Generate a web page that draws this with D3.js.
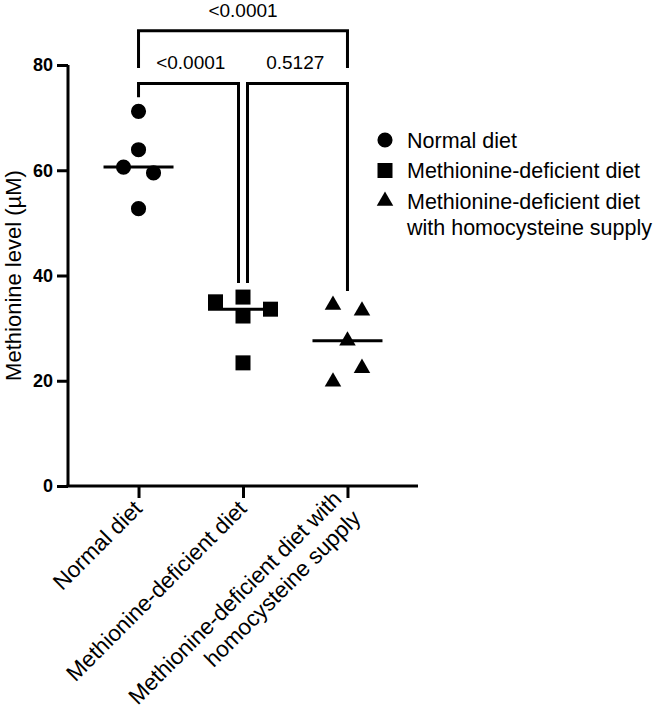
<!DOCTYPE html>
<html>
<head>
<meta charset="utf-8">
<script src="https://cdn.jsdelivr.net/npm/d3@7"></script>
<style>
  body { margin: 0; background: #fff; }
  text { font-family: Arial, "Liberation Sans", sans-serif; }
</style>
</head>
<body>
<div id="plot"></div>
<script>
// groups shown on the x axis
const groups = ['Normal diet', 'Methionine-deficient diet', 'Methionine-deficient diet with homocysteine supply']
const groupLabels = [['Normal diet'], ['Methionine-deficient diet'], ['Methionine-deficient diet with', 'homocysteine supply']]
const legendLabels = [['Normal diet'], ['Methionine-deficient diet'], ['Methionine-deficient diet', 'with homocysteine supply']]

// methionine level (uM) per animal
const normalDiet = [71.2, 63.9, 60.6, 59.5, 52.7]
const deficientDiet = [35.9, 35.0, 33.6, 32.3, 23.4]
const homocysteineDiet = [34.4, 33.3, 27.6, 19.8, 22.4]

const yTicks = [0, 20, 40, 60, 80]

// pairwise comparisons: [from group, to group, p value label, bracket level]
const comparisons = [
  [0, 1, '<0.0001', 76.5],
  [1, 2, '0.5127', 76.5],
  [0, 2, '<0.0001', 86.5]
]

const series = [normalDiet, deficientDiet, homocysteineDiet]
const shapes = [d3.symbolCircle, d3.symbolSquare, d3.symbolTriangle]
const shapeSizes = [180, 225, 118]
const spread = [15, 27.5, 14.5]   // horizontal step used when dots overlap

const width = 657, height = 718
const margin = {top: 65, left: 68}
const svg = d3.select('#plot').append('svg')
    .attr('width', width)
    .attr('height', height)

const x = d3.scalePoint()
    .domain(groups)
    .range([68, 418])
    .padding(0.675)

const y = d3.scaleLinear()
    .domain([0, 80])
    .range([486, 65])

// y axis
const yAxis = svg.append('g')
    .attr('transform', 'translate(' + margin.left + ',0)')
    .call(d3.axisLeft(y).tickValues(yTicks).tickSize(11).tickPadding(4))
yAxis.select('.domain').attr('d', 'M0,' + y(80) + 'V' + y(0))
yAxis.selectAll('line, path').attr('stroke', '#000').attr('stroke-width', 3)
yAxis.selectAll('text')
    .style('font-size', '18px')
    .style('font-weight', 'bold')
    .attr('fill', '#000')

// x axis
const xAxis = svg.append('g')
    .attr('transform', 'translate(0,' + y(0) + ')')
    .call(d3.axisBottom(x).tickSize(12).tickFormat(''))
xAxis.select('.domain').attr('d', 'M' + (margin.left - 1.5) + ',0H418')
xAxis.selectAll('line, path').attr('stroke', '#000').attr('stroke-width', 3)

// rotated category labels
groups.forEach((g, i) => {
  const lines = groupLabels[i]
  const t = svg.append('text')
      .attr('transform', 'translate(' + (x(g) + 5) + ',' + (y(0) + 24) + ') rotate(-45)')
      .attr('text-anchor', 'end')
      .style('font-size', '22.5px')
  lines.forEach((l, j) => {
    t.append('tspan')
        .attr('x', 0)
        .attr('dy', j === 0 ? (-(lines.length - 1) * 0.6) + 'em' : '1.2em')
        .text(l)
  })
})

// y axis title
svg.append('text')
    .attr('transform', 'translate(21,' + y(40) + ') rotate(-90)')
    .attr('text-anchor', 'middle')
    .style('font-size', '22px')
    .text('Methionine level (\u00b5M)')

// spread overlapping dots sideways
function swarm(values, step) {
  const px = values.map(v => y(v))
  const order = d3.range(values.length).sort((a, b) => px[a] - px[b])
  const offs = new Array(values.length).fill(0)
  let clusters = [], cur = [order[0]]
  for (let k = 1; k < order.length; k++) {
    if (px[order[k]] - px[order[k - 1]] < 15) cur.push(order[k])
    else { clusters.push(cur); cur = [order[k]] }
  }
  clusters.push(cur)
  clusters.forEach(c => {
    if (c.length === 2) {
      const s = c.slice().sort((a, b) => a - b)
      offs[s[0]] = -step; offs[s[1]] = step
    } else if (c.length > 2) {
      const placed = []
      c.forEach(i => {
        for (const o of [0, -step, step]) {
          if (!placed.some(p => p.o === o && Math.abs(px[p.i] - px[i]) < 15)) {
            offs[i] = o; placed.push({i: i, o: o}); break
          }
        }
      })
    }
  })
  return offs
}

series.forEach((vals, i) => {
  const cx = x(groups[i])
  const offs = swarm(vals, spread[i])
  // median line
  svg.append('line')
      .attr('x1', cx - 35).attr('x2', cx + 35)
      .attr('y1', y(d3.median(vals))).attr('y2', y(d3.median(vals)))
      .attr('stroke', '#000').attr('stroke-width', 3)
  svg.selectAll('.dot' + i)
      .data(vals)
      .enter()
      .append('path')
      .attr('d', d3.symbol().type(shapes[i]).size(shapeSizes[i]))
      .attr('transform', (d, k) => 'translate(' + (cx + offs[k]) + ',' + y(d) + ')')
      .attr('fill', '#000')
})

// significance brackets
comparisons.forEach(c => {
  const x1 = x(groups[c[0]]), x2 = x(groups[c[1]])
  const yb = y(c[3])
  const inner = c[1] - c[0] === 1
  // inner brackets sit slightly apart where they share a group
  const a = inner && c[0] === 1 ? x1 + 4.5 : x1
  const b = inner && c[1] === 1 ? x2 - 4.5 : x2
  const ya = inner ? y(d3.max(series[c[0]])) - 14 : y(80) + 3
  const ybEnd = inner ? y(d3.max(series[c[1]])) - 14 : y(80) + 3
  svg.append('path')
      .attr('d', 'M' + a + ',' + ya + 'V' + yb + 'H' + b + 'V' + ybEnd)
      .attr('fill', 'none')
      .attr('stroke', '#000')
      .attr('stroke-width', 3)
  svg.append('text')
      .attr('x', (x1 + x2) / 2)
      .attr('y', yb - 14)
      .attr('text-anchor', 'middle')
      .style('font-size', '19px')
      .text(c[2])
})

// legend
const legend = svg.append('g').attr('transform', 'translate(385,140)')
let rowY = 0
legendLabels.forEach((lines, i) => {
  legend.append('path')
      .attr('d', d3.symbol().type(shapes[i]).size(shapeSizes[i]))
      .attr('transform', 'translate(0,' + rowY + ')')
      .attr('fill', '#000')
  const t = legend.append('text')
      .attr('x', 22)
      .attr('y', rowY + 7.5)
      .style('font-size', '21.5px')
  lines.forEach((l, j) => {
    t.append('tspan').attr('x', 22).attr('dy', j === 0 ? 0 : '1.25em').text(l)
  })
  rowY += 30.5
})
</script>
</body>
</html>
